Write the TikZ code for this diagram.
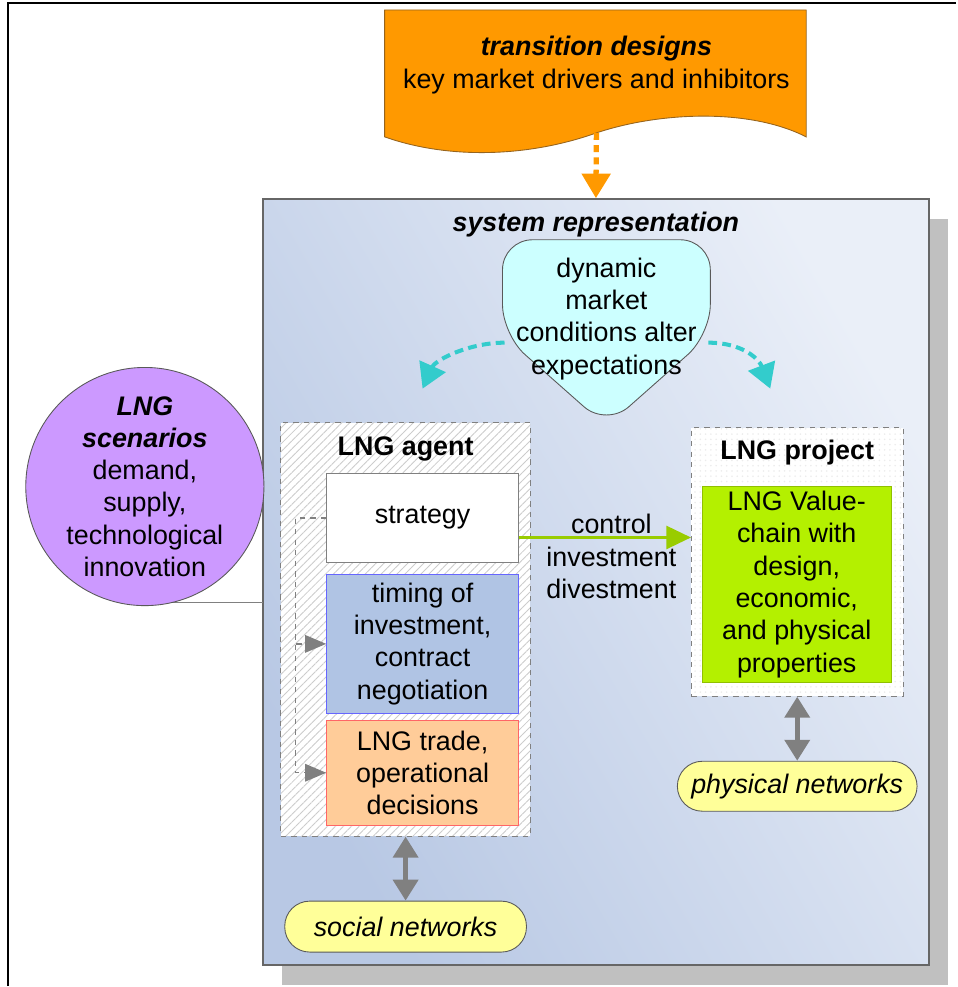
\documentclass[tikz,border=0pt]{standalone}
\usepackage{fontspec}
\setmainfont{Liberation Sans}
\usepackage{tikz}
\usetikzlibrary{arrows.meta,positioning,patterns,patterns.meta,shadows}
\usepackage{xcolor}
\definecolor{bannerorange}{RGB}{255,153,0}
\definecolor{bannerline}{RGB}{150,100,30}
\definecolor{sysdark}{RGB}{184,200,228}
\definecolor{syslight}{RGB}{234,239,248}
\definecolor{shadowgrey}{RGB}{192,192,192}
\definecolor{dynfill}{RGB}{204,255,255}
\definecolor{dynarrow}{RGB}{51,204,204}
\definecolor{scenfill}{RGB}{204,153,255}
\definecolor{timingfill}{RGB}{176,196,228}
\definecolor{timingline}{RGB}{102,102,255}
\definecolor{tradefill}{RGB}{255,204,153}
\definecolor{tradeline}{RGB}{255,102,102}
\definecolor{chainfill}{RGB}{180,240,0}
\definecolor{ctlgreen}{RGB}{153,204,0}
\definecolor{netfill}{RGB}{255,255,153}

\begin{document}
\begin{tikzpicture}[x=0.02cm,y=-0.02cm,
	every node/.style={font=\fontsize{15.3}{18.4}\selectfont,align=center,inner sep=0pt},
	sys box/.style={draw=gray!80!black,line width=0.8pt,minimum width=13.34cm,minimum height=15.34cm,
		top color=syslight,bottom color=sysdark,shading angle=-60,
		drop shadow={shadow xshift=0.38cm,shadow yshift=-0.4cm,fill=shadowgrey,opacity=1}},
	agent box/.style={draw=gray,dashed,line width=0.4pt,preaction={fill=white},
		pattern={Lines[angle=45,distance=3.2pt,line width=0.5pt]},pattern color=gray!40},
	project box/.style={draw=gray,dashed,line width=0.4pt,preaction={fill=white},pattern=dots,pattern color=gray!15},
	inner box/.style={draw,line width=0.6pt,minimum width=3.84cm},
	title text/.style={font=\fontsize{15.3}{18.4}\selectfont\bfseries},
	net pill/.style={draw=gray!70!black,fill=netfill,line width=0.5pt,rounded corners=0.5cm,font=\fontsize{15.3}{18.4}\selectfont\itshape},
	grey arrow/.style={{Triangle[length=12pt,width=14pt]}-{Triangle[length=12pt,width=14pt]},draw=gray,line width=3pt},
	loop arrow/.style={-{Triangle[length=12pt,width=10pt]},draw=gray,dashed,line width=0.8pt},
	dyn arrow/.style={-{Triangle[length=14pt,width=16pt]},draw=dynarrow,line width=2.3pt,dash pattern=on 5pt off 3pt},
	ctl arrow/.style={-{Triangle[length=14pt,width=13pt]},draw=ctlgreen,line width=1.7pt}]

	\draw[line width=1.1pt] (8,987) -- (8,3) -- (957,3);

	\draw[bannerline,fill=bannerorange,line width=0.5pt] (385,10) -- (807,10) -- (807,137)
		.. controls (750,108) and (660,112) .. (597,133)
		.. controls (530,157) and (450,160) .. (385,137) -- cycle;
	\node (banner) at (597,65) {\textbf{\textit{transition designs}}\\key market drivers and inhibitors};
	\coordinate (wave) at (597,133);

	\node[sys box] (sys) at (596.5,582.5) {};
	\node[title text] (systitle) [below=7.5pt of sys.north] {\textit{system representation}};

	\draw[-{Triangle[length=14pt,width=16pt]},draw=bannerorange,line width=3pt,dash pattern=on 4pt off 3pt] (wave) -- (sys.north);

	\draw[draw=gray!70!black,fill=dynfill,line width=0.5pt,rounded corners=0.6cm]
		(503,240) -- (711,240) -- (711,335) -- (607,427) -- (503,335) -- cycle;
	\node (dyn) at (607,319) {dynamic\\market\\conditions alter\\expectations};
	\coordinate (dynL) at (505,343);
	\coordinate (dynR) at (709,343);
	\coordinate (tipL) at (423,389);
	\coordinate (tipR) at (771,389);
	\draw[dyn arrow] (dynL) .. controls (470,343) and (436,360) .. (tipL);
	\draw[dyn arrow] (dynR) .. controls (744,343) and (760,360) .. (tipR);

	\draw[gray] (145,603) -- (263,603);
	\node[circle,draw=gray!70!black,fill=scenfill,line width=0.5pt,minimum size=4.68cm] (scen) at (145,487)
		{\textbf{\textit{LNG}}\\\textbf{\textit{scenarios}}\\demand,\\supply,\\technological\\innovation};

	\node[agent box,minimum width=5cm,minimum height=8.28cm] (agent) at (406,630) {};
	\node[title text] (agenttitle) [below=8pt of agent.north] {LNG agent};
	\node[inner box,draw=gray,fill=white,minimum height=1.78cm] (strategy) at (423,518.5) {strategy};
	\node[inner box,draw=timingline,fill=timingfill,minimum height=2.78cm] (timing) at (423,644.5) {timing of\\investment,\\contract\\negotiation};
	\node[inner box,draw=tradeline,fill=tradefill,minimum height=2.1cm] (trade) at (423,773.5) {LNG trade,\\operational\\decisions};

	\draw[loop arrow] (strategy.west) -- ++(-31,0) |- (timing.west);
	\draw[loop arrow] (strategy.west) -- ++(-31,0) |- (trade.west);

	\node[project box,minimum width=4.24cm,minimum height=5.38cm] (project) at (798,562.5) {};
	\node[title text] (projecttitle) [below=7pt of project.north] {LNG project};
	\node[draw=chainfill!80!black,fill=chainfill,line width=0.5pt,minimum width=3.78cm,minimum height=3.92cm] (chain) at (797.5,585)
		{LNG Value-\\chain with\\design,\\economic,\\and physical\\properties};

	\node (ctltext) at (612,557) {control\\investment\\divestment};
	\coordinate (ctl) at (600,538);
	\draw[ctl arrow] (strategy.east |- ctl) -- (project.west |- ctl);

	\node[net pill,minimum width=4.8cm,minimum height=1cm] (physical) at (798,787) {physical networks};
	\node[net pill,minimum width=4.84cm,minimum height=1.02cm] (social) at (406,927.5) {social networks};

	\draw[grey arrow] (agent.south) -- (social.north);
	\draw[grey arrow] (project.south) -- (physical.north);

	\useasboundingbox (0,0) rectangle (957,987);
\end{tikzpicture}
\end{document}
